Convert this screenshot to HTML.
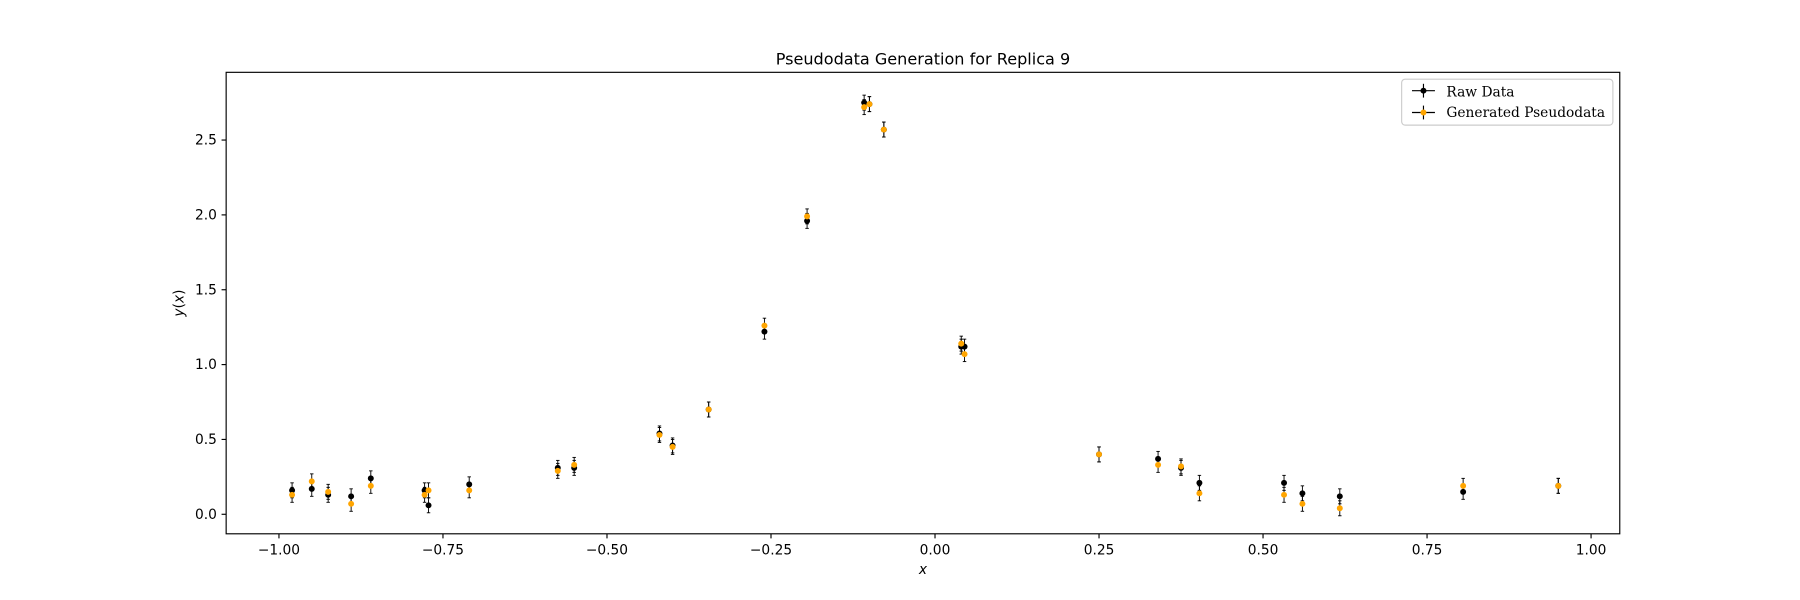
<!DOCTYPE html>
<html><head><meta charset="utf-8"><style>
html,body{margin:0;padding:0;background:#fff;}
svg{display:block;font-family:"DejaVu Sans","Liberation Sans",sans-serif;}
</style></head><body>
<svg id="chart" width="1800" height="600" viewBox="0 0 1568 522.67" xmlns="http://www.w3.org/2000/svg">
<rect width="1568" height="522.67" fill="#fff"/>
<text x="804" y="56" font-size="14" text-anchor="middle">Pseudodata Generation for Replica 9</text>
<g id="axes"></g>
<g id="marks"></g>
<rect x="197" y="63" width="1214" height="402" fill="none" stroke="#000" stroke-width="1"/>
<text x="804" y="500" font-size="12" font-style="italic" text-anchor="middle">x</text>
<text transform="translate(160,264) rotate(-90)" font-size="12" text-anchor="middle"><tspan font-style="italic">y</tspan>(<tspan font-style="italic">x</tspan>)</text>
<g>
<rect x="1221" y="69" width="184" height="40" rx="3" fill="#fff" stroke="#ccc"/>
<g>
<line x1="1230" y1="79" x2="1250" y2="79" stroke="#000"/><line x1="1240" y1="73" x2="1240" y2="85" stroke="#000"/><circle cx="1240" cy="79" r="2.6" fill="#000"/>
<text x="1260" y="84" font-family="'DejaVu Serif','Liberation Serif',serif" font-size="12">Raw Data</text></g>
<g>
<line x1="1230" y1="98" x2="1250" y2="98" stroke="#000"/><line x1="1240" y1="92" x2="1240" y2="104" stroke="#000"/><circle cx="1240" cy="98" r="2.6" fill="orange"/>
<text x="1260" y="102" font-family="'DejaVu Serif','Liberation Serif',serif" font-size="12">Generated Pseudodata</text></g>
</g>
</svg>
<script>
const xValues=[-0.98,-0.95,-0.925,-0.89,-0.86,-0.778,-0.772,-0.71,-0.575,-0.55,-0.42,-0.40,-0.345,-0.26,-0.195,-0.108,-0.1,-0.078,0.04,0.045,0.25,0.34,0.375,0.403,0.532,0.56,0.617,0.805,0.95];
const rawValues=[0.16,0.17,0.13,0.12,0.24,0.16,0.06,0.20,0.31,0.31,0.54,0.46,0.70,1.22,1.96,2.75,2.74,2.57,1.12,1.12,0.40,0.37,0.31,0.21,0.21,0.14,0.12,0.15,0.19];
const pseudoValues=[0.13,0.22,0.15,0.07,0.19,0.13,0.16,0.16,0.29,0.33,0.53,0.45,0.70,1.26,1.99,2.72,2.74,2.57,1.14,1.07,0.40,0.33,0.32,0.14,0.13,0.07,0.04,0.19,0.19];
const errValues=[0.05,0.05,0.05,0.05,0.05,0.05,0.05,0.05,0.05,0.05,0.05,0.05,0.05,0.05,0.05,0.05,0.05,0.05,0.05,0.05,0.05,0.05,0.05,0.05,0.05,0.05,0.05,0.05,0.05];
const xTicks=[-1.0,-0.75,-0.5,-0.25,0.0,0.25,0.5,0.75,1.0];
const xTickLabels=["−1.00","−0.75","−0.50","−0.25","0.00","0.25","0.50","0.75","1.00"];
const yTicks=[0,0.5,1.0,1.5,2.0,2.5];
const yTickLabels=["0.0","0.5","1.0","1.5","2.0","2.5"];
const NS="http://www.w3.org/2000/svg";
function X(v){return 814.5+v*571.5;}
function Y(v){return 448-v*130.4;}
function mk(tag,attrs,parent){const e=document.createElementNS(NS,tag);for(const k in attrs)e.setAttribute(k,attrs[k]);parent.appendChild(e);return e;}
const axes=document.getElementById('axes'),marks=document.getElementById('marks');
xTicks.forEach((t,i)=>{
 const g=mk('g',{},axes);
 
 
 mk('line',{x1:X(t),x2:X(t),y1:465,y2:469,stroke:'#000'},g);
 const tx=mk('text',{x:X(t),y:483,'font-size':12,'text-anchor':'middle'},g);tx.textContent=xTickLabels[i];
});
yTicks.forEach((t,i)=>{
 const g=mk('g',{},axes);
 
 
 mk('line',{x1:193,x2:197,y1:Y(t),y2:Y(t),stroke:'#000'},g);
 const tx=mk('text',{x:189,y:Y(t)+4,'font-size':12,'text-anchor':'end'},g);tx.textContent=yTickLabels[i];
});
function point(x,y,e,color,name){
 const g=mk('g',{},marks);
 
 
 const cx=X(x);
 mk('line',{x1:cx,x2:cx,y1:Y(y+e),y2:Y(y-e),stroke:'#000','stroke-width':0.8},g);
 mk('line',{x1:cx-1.5,x2:cx+1.5,y1:Y(y+e),y2:Y(y+e),stroke:'#000','stroke-width':0.8},g);
 mk('line',{x1:cx-1.5,x2:cx+1.5,y1:Y(y-e),y2:Y(y-e),stroke:'#000','stroke-width':0.8},g);
 mk('circle',{cx:cx,cy:Y(y),r:2.6,fill:color},g);
}
xValues.forEach((x,i)=>point(x,rawValues[i],errValues[i],'#000','raw-data-point'));
xValues.forEach((x,i)=>point(x,pseudoValues[i],errValues[i],'orange','pseudodata-point'));
</script>
</body></html>
